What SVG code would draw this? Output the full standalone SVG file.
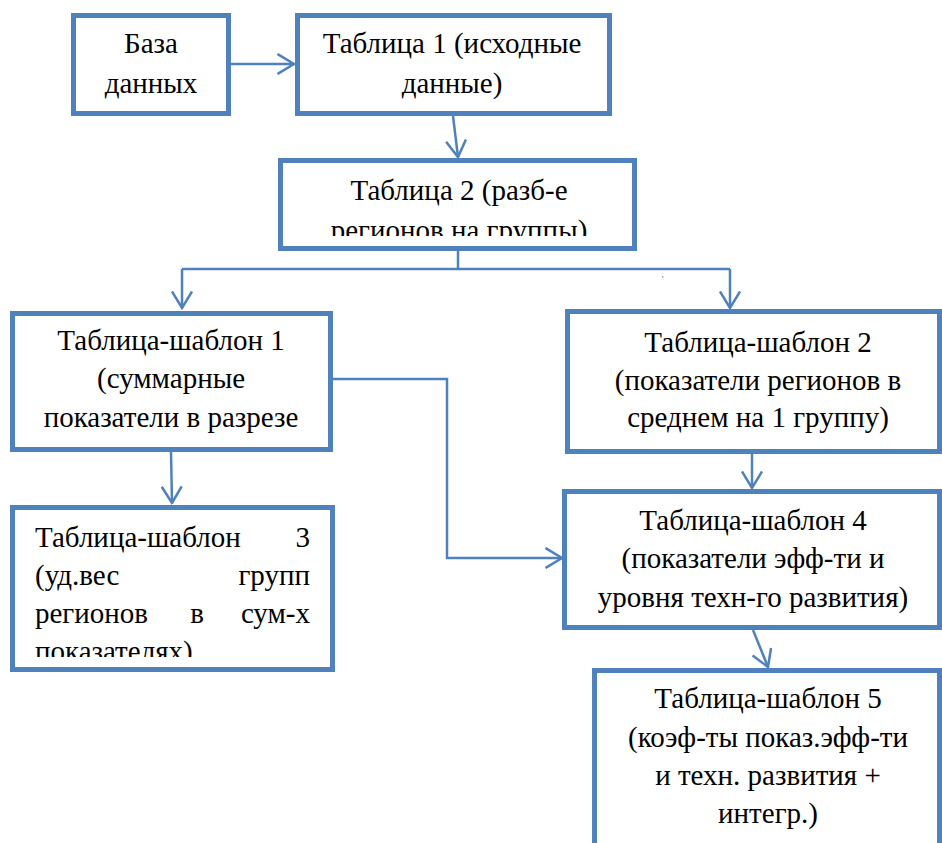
<svg xmlns="http://www.w3.org/2000/svg" width="942" height="843" viewBox="0 0 942 843" font-family="Liberation Serif, Times New Roman, DejaVu Serif, serif" font-size="29">
<defs>
<style>
.box{fill:#fff;stroke:#4F81BD;stroke-width:5}
.con{fill:none;stroke:#4F81BD;stroke-width:2.5}
.t{fill:#000}
.c{text-anchor:middle}
.e{text-anchor:end}
</style>
<marker id="ah" viewBox="0 0 19 22" refX="17.5" refY="11" markerWidth="19" markerHeight="22" markerUnits="userSpaceOnUse" orient="auto">
<path d="M1,1 L17.5,11 L1,21" fill="none" stroke="#4F81BD" stroke-width="2.5"/>
</marker>
<clipPath id="clip2"><rect x="283" y="163" width="349" height="73"/></clipPath>
<clipPath id="clip3"><rect x="15" y="510" width="315" height="147"/></clipPath>
</defs>
<rect width="942" height="843" fill="#fff"/>
<g id="connectors">
<line class="con" x1="231" y1="64" x2="294" y2="64" marker-end="url(#ah)"/>
<line class="con" x1="453" y1="116" x2="458" y2="157" marker-end="url(#ah)"/>
<polyline class="con" points="458,251 458,269"/>
<polyline class="con" points="182,269 730,269"/>
<line class="con" x1="182" y1="269" x2="182" y2="308" marker-end="url(#ah)"/>
<line class="con" x1="730" y1="269" x2="730" y2="308" marker-end="url(#ah)"/>
<line class="con" x1="171" y1="452" x2="172" y2="503" marker-end="url(#ah)"/>
<polyline class="con" points="333,379 447,379 447,558 562,558" marker-end="url(#ah)"/>
<line class="con" x1="752" y1="454" x2="752" y2="488" marker-end="url(#ah)"/>
<line class="con" x1="753" y1="630" x2="768" y2="667" marker-end="url(#ah)"/>
<rect x="662" y="276" width="1.5" height="2" fill="#9FB3CC"/>
</g>
<g id="db">
<rect class="box" x="73.5" y="15.5" width="155" height="98"/>
<text class="t c" x="151" y="53">База</text>
<text class="t c" x="151" y="93">данных</text>
</g>
<g id="table1">
<rect class="box" x="297.5" y="15.5" width="312" height="98"/>
<text class="t c" x="452" y="53">Таблица 1 (исходные</text>
<text class="t c" x="452" y="93">данные)</text>
</g>
<g id="table2">
<rect class="box" x="280.5" y="160.5" width="354" height="88"/>
<g clip-path="url(#clip2)">
<text class="t c" x="459" y="200">Таблица 2 (разб-е</text>
<text class="t c" x="459" y="240">регионов на группы)</text>
</g>
</g>
<g id="tpl1">
<rect class="box" x="12.5" y="313.5" width="318" height="136"/>
<text class="t c" x="171" y="350">Таблица-шаблон 1</text>
<text class="t c" x="171" y="388">(суммарные</text>
<text class="t c" x="171" y="427">показатели в разрезе</text>
</g>
<g id="tpl2">
<rect class="box" x="567.5" y="311.5" width="372" height="140"/>
<text class="t c" x="758" y="352">Таблица-шаблон 2</text>
<text class="t c" x="758" y="390">(показатели регионов в</text>
<text class="t c" x="758" y="427">среднем на 1 группу)</text>
</g>
<g id="tpl3">
<rect class="box" x="12.5" y="507.5" width="320" height="162"/>
<g clip-path="url(#clip3)">
<text class="t" x="35" y="547">Таблица-шаблон</text>
<text class="t e" x="310" y="547">3</text>
<text class="t" x="35" y="585">(уд.вес</text>
<text class="t e" x="310" y="585">групп</text>
<text class="t" x="35" y="623">регионов</text>
<text class="t c" x="197" y="623">в</text>
<text class="t e" x="310" y="623">сум-х</text>
<text class="t" x="35" y="661">показателях)</text>
</g>
</g>
<g id="tpl4">
<rect class="box" x="564.5" y="491.5" width="375" height="136"/>
<text class="t c" x="753" y="530">Таблица-шаблон 4</text>
<text class="t c" x="753" y="568">(показатели эфф-ти и</text>
<text class="t c" x="753" y="607">уровня техн-го развития)</text>
</g>
<g id="tpl5">
<path class="box" d="M594.5,850 V670.5 H939.5 V850"/>
<text class="t c" x="768" y="708">Таблица-шаблон 5</text>
<text class="t c" x="768" y="747">(коэф-ты показ.эфф-ти</text>
<text class="t c" x="768" y="785">и техн. развития +</text>
<text class="t c" x="768" y="823">интегр.)</text>
</g>
</svg>
